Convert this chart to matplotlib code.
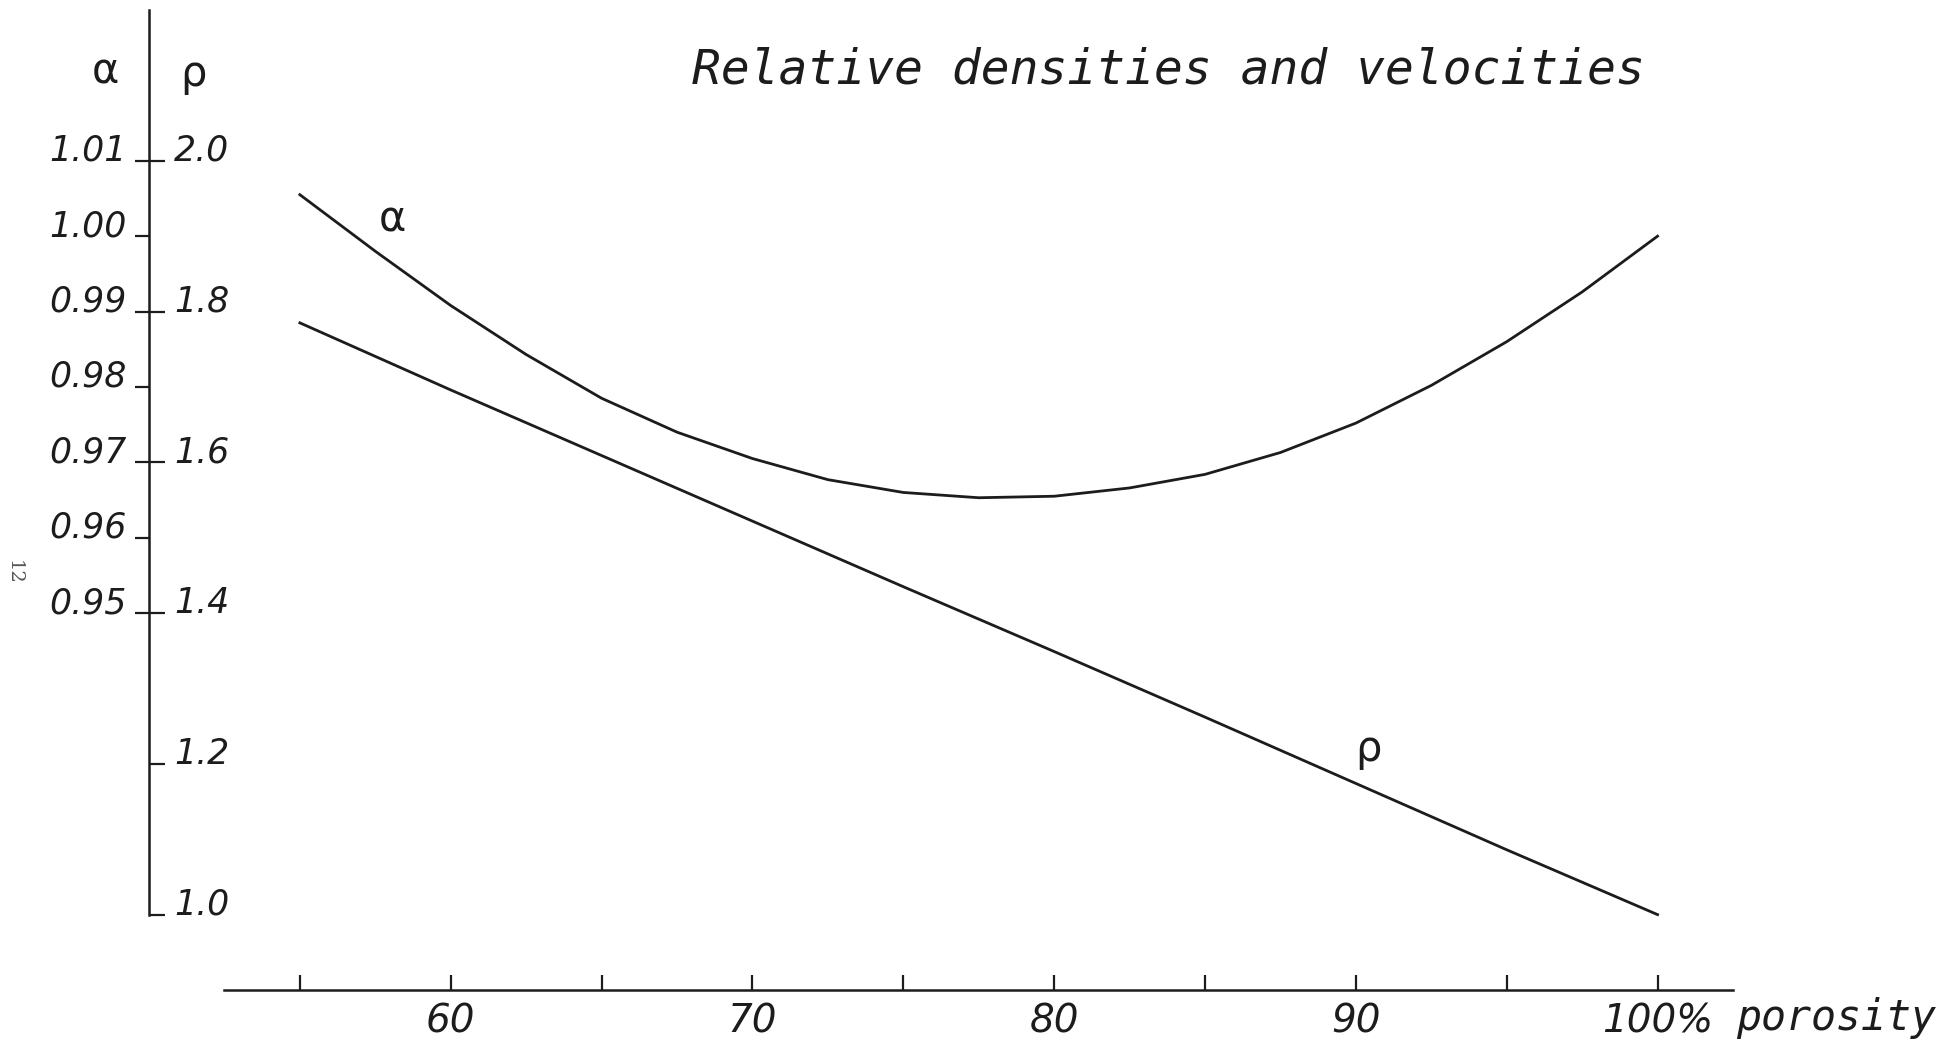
import matplotlib
matplotlib.use("Agg")
import matplotlib.pyplot as plt

# values (porosity in %)
porosity = [55, 57.5, 60, 62.5, 65, 67.5, 70, 72.5, 75, 77.5,
            80, 82.5, 85, 87.5, 90, 92.5, 95, 97.5, 100]
alpha = [1.0055, 0.9980, 0.9908, 0.9843, 0.9785, 0.9740, 0.9705, 0.9677, 0.9660, 0.9653,
         0.9655, 0.9666, 0.9684, 0.9713, 0.9752, 0.9802, 0.9860, 0.9926, 1.0000]

rho_porosity = [55, 60, 65, 70, 75, 80, 85, 90, 95, 100]
rho = [1.785, 1.696, 1.609, 1.522, 1.435, 1.349, 1.262, 1.174, 1.086, 1.0]

alpha_ticks = [0.95, 0.96, 0.97, 0.98, 0.99, 1.00, 1.01]
alpha_labels = ["0.95", "0.96", "0.97", "0.98", "0.99", "1.00", "1.01"]
rho_ticks = [1.0, 1.2, 1.4, 1.6, 1.8, 2.0]
rho_labels = ["1.0", "1.2", "1.4", "1.6", "1.8", "2.0"]
x_ticks = [55, 60, 65, 70, 75, 80, 85, 90, 95, 100]
x_labels = ["", "60", "", "70", "", "80", "", "90", "", "100%"]

ink = "#1c1c1c"
plt.rcParams["font.family"] = ["DejaVu Sans"]
plt.rcParams["font.style"] = "italic"
plt.rcParams["text.color"] = ink

W, H = 1941, 1054
fig = plt.figure(figsize=(W / 100, H / 100), dpi=100)
ax = fig.add_axes([149 / W, 1 - 990 / H, (1733 - 149) / W, (990 - 10) / H])
ax.set_xlim(50, 102.5)
ax.set_ylim(0.90, 1.03)

# rho scale: same paper, rho = 10*alpha - 8.1
ax2 = ax.twinx()
lo, hi = ax.get_ylim()
ax2.set_ylim(10 * lo - 8.1, 10 * hi - 8.1)

ax.plot(porosity, alpha, color=ink, lw=2.0, solid_joinstyle="round")
ax2.plot(rho_porosity, rho, color=ink, lw=2.0, solid_joinstyle="round")

# spines
for s in ["top", "right"]:
    ax.spines[s].set_visible(False)
ax.spines["left"].set_bounds(0.91, 1.03)
ax.spines["bottom"].set_bounds(52.5, 102.5)
for s in ["left", "bottom"]:
    ax.spines[s].set_color(ink)
    ax.spines[s].set_linewidth(1.8)
for s in ["left", "top", "bottom"]:
    ax2.spines[s].set_visible(False)
ax2.spines["right"].set_position(("axes", 0))
ax2.spines["right"].set_visible(False)

# ticks
ax.set_xticks(x_ticks, x_labels)
ax.tick_params(axis="x", direction="in", length=11, width=1.6, pad=9,
               labelsize=28, color=ink, labelcolor=ink)
ax.set_yticks(alpha_ticks, alpha_labels)
ax.tick_params(axis="y", direction="out", length=10, width=1.6, pad=6,
               labelsize=25, color=ink, labelcolor=ink)
ax2.set_yticks(rho_ticks, rho_labels)
ax2.tick_params(axis="y", direction="out", length=11.5, width=1.6, pad=6.5,
                labelsize=25, color=ink, labelcolor=ink)
plt.setp(ax.get_yticklabels(), va="baseline")
plt.setp(ax2.get_yticklabels(), va="baseline")

# curve labels
ax.text(58.06, 1.0022, "α", size=30, style="normal", ha="center", va="center")
ax2.text(90.42, 1.22, "ρ", size=30, style="normal", ha="center", va="center")

# headers, title, axis name
fig.text(105 / W, 1 - 72 / H, "α", size=30, style="normal", ha="center", va="center")
fig.text(193 / W, 1 - 74 / H, "ρ", size=30, style="normal", ha="center", va="center")
fig.text(692 / W, 1 - 83 / H, "Relative densities and velocities",
         family="DejaVu Sans Mono", size=34.5, va="baseline", ha="left")
fig.text(1736 / W, 1 - 1030 / H, "porosity", family="DejaVu Sans Mono",
         size=30, va="baseline", ha="left")
fig.text(14 / W, 1 - 572 / H, "12", rotation=270, size=14, style="normal",
         family="DejaVu Serif", color="#555555", ha="center", va="center")

fig.savefig("out.png", dpi=100, facecolor="white")
